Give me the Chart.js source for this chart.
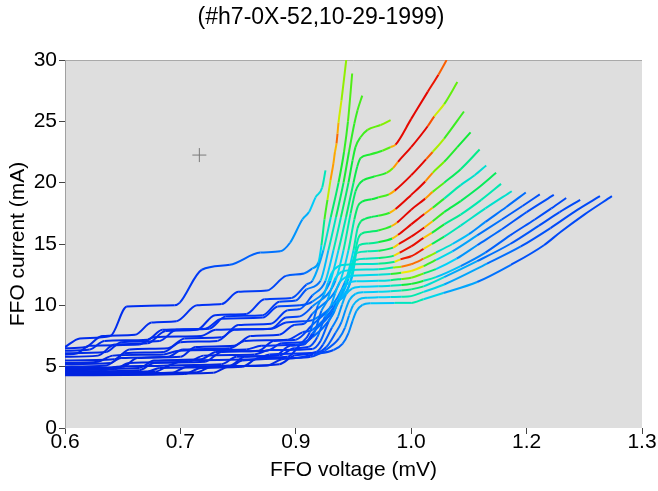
<!DOCTYPE html>
<html>
<head>
<meta charset="utf-8">
<title>FFO IV curves</title>
<script src="https://cdn.jsdelivr.net/npm/chart.js@4.4.0/dist/chart.umd.min.js"></script>
<style>
  html, body { margin: 0; padding: 0; background: #fff; }
  #wrap { width: 658px; height: 491px; }
</style>
</head>
<body>
<div id="wrap"><canvas id="myChart" width="658" height="491"></canvas></div>
<script>
'use strict';

/*---------------------------------------------------------------*/
/*----------------------------- data ----------------------------*/
/*---------------------------------------------------------------*/
// each point: [FFO voltage (mV), FFO current (mA), colour level 0..1]

const xTickValues = [0.6, 0.74, 0.88, 1.02, 1.16, 1.3];
const xTickLabels = ['0.6', '0.7', '0.9', '1.0', '1.2', '1.3'];
const yTickValues = [0, 5, 10, 15, 20, 25, 30];
const cursorMark = [0.763, 22.25];

const t1 = [[0.600,6.6,0.08],[0.618,7.3,0.08],[0.655,7.5,0.08],[0.675,9.9,0.09],[0.733,10.0,0.09],[0.739,10.2,0.1],[0.766,12.9,0.12],[0.800,13.3,0.16],[0.837,14.3,0.2],[0.861,14.4,0.22],[0.873,15.1,0.24],[0.888,17.0,0.28],[0.896,17.6,0.32],[0.904,18.8,0.36],[0.912,19.6,0.4],[0.916,21.0,0.46]];

const s1 = [[0.600,6.5,0.07],[0.625,6.6,0.07],[0.645,7.5,0.08],[0.685,7.6,0.08],[0.705,8.6,0.09],[0.735,8.7,0.09],[0.760,10.0,0.1],[0.790,10.1,0.1],[0.810,11.1,0.11],[0.845,11.2,0.12],[0.868,12.4,0.15],[0.890,12.6,0.2],[0.900,13.0,0.24],[0.9075,13.5,0.3],[0.9111,14.9,0.42],[0.9148,17.0,0.52],[0.9184,18.6,0.62],[0.9221,20.2,0.74],[0.9257,21.6,0.88],[0.9275,22.5,0.72],[0.9294,23.2,0.84],[0.9306,24.0,0.87],[0.9318,24.9,0.72],[0.9354,26.7,0.66],[0.9412,30.0,0.62]];

const s2 = [[0.600,5.8,0.06],[0.640,5.9,0.06],[0.660,6.8,0.07],[0.700,6.9,0.07],[0.722,7.9,0.08],[0.760,8.0,0.08],[0.782,9.2,0.09],[0.820,9.3,0.1],[0.842,10.5,0.11],[0.875,10.6,0.13],[0.893,11.7,0.17],[0.9002,12.0,0.22],[0.9135,14.5,0.36],[0.9225,17.2,0.46],[0.9318,20.0,0.52],[0.9385,22.5,0.55],[0.9433,25.0,0.57],[0.9484,28.9,0.6]];

const s3 = [[0.600,6.1,0.07],[0.650,6.2,0.07],[0.668,7.0,0.08],[0.715,7.1,0.08],[0.735,8.0,0.09],[0.775,8.1,0.09],[0.795,9.1,0.1],[0.840,9.2,0.11],[0.860,10.3,0.12],[0.880,10.4,0.14],[0.893,11.3,0.18],[0.9099,12.0,0.26],[0.9196,14.5,0.38],[0.9288,17.2,0.47],[0.9379,20.0,0.52],[0.9445,22.5,0.55],[0.951,24.8,0.56],[0.9549,25.9,0.57],[0.9606,27.1,0.58]];

const g1 = [[0.600,5.5,0.06],[0.660,5.6,0.06],[0.678,6.4,0.07],[0.725,6.5,0.07],[0.745,7.3,0.08],[0.790,7.4,0.08],[0.810,8.4,0.09],[0.850,8.5,0.1],[0.870,9.6,0.12],[0.885,9.7,0.14],[0.900,10.8,0.18],[0.916,12.0,0.28],[0.9257,14.5,0.4],[0.9348,17.2,0.47],[0.9439,20.0,0.51],[0.9488,21.8,0.53],[0.9524,22.9,0.54],[0.9585,23.7,0.56],[0.967,24.3,0.58],[0.9828,24.7,0.62],[0.995,25.1,0.64]];

const f01 = [[0.600,6.3,0.07],[0.630,6.4,0.07],[0.648,7.1,0.08],[0.700,7.2,0.08],[0.718,8.0,0.09],[0.770,8.1,0.09],[0.790,8.9,0.1],[0.840,9.0,0.1],[0.858,9.9,0.12],[0.885,10.0,0.15],[0.900,10.3,0.18],[0.922,12.0,0.3],[0.9318,14.5,0.41],[0.941,17.2,0.47],[0.950,20.0,0.5],[0.9545,21.3,0.52],[0.9585,22.0,0.53],[0.970,22.3,0.54],[0.985,22.6,0.56],[0.995,22.9,0.62],[1.001,23.1,0.96],[1.02,25.2,0.99],[1.04,27.4,0.98],[1.053,28.8,0.92],[1.063,30.0,0.8]];

const f02 = [[0.600,5.2,0.06],[0.655,5.3,0.06],[0.672,6.1,0.07],[0.720,6.2,0.07],[0.740,7.0,0.08],[0.785,7.1,0.08],[0.805,8.0,0.09],[0.850,8.1,0.1],[0.868,9.0,0.11],[0.885,9.1,0.14],[0.900,9.9,0.18],[0.928,12.0,0.3],[0.9379,14.5,0.42],[0.9465,17.5,0.48],[0.9525,19.3,0.5],[0.957,19.9,0.51],[0.962,20.2,0.52],[0.975,20.5,0.53],[0.990,20.8,0.56],[0.998,21.2,0.66],[1.004,21.7,0.97],[1.02,22.9,0.99],[1.04,24.6,0.98],[1.048,25.4,0.76],[1.06,26.4,0.62],[1.076,28.2,0.58]];

const f03 = [[0.600,4.9,0.05],[0.670,5.0,0.05],[0.688,5.7,0.06],[0.740,5.8,0.06],[0.758,6.6,0.07],[0.805,6.7,0.07],[0.825,7.5,0.08],[0.860,7.6,0.09],[0.878,8.4,0.11],[0.890,8.5,0.13],[0.900,9.3,0.17],[0.934,12.0,0.3],[0.9439,14.5,0.42],[0.951,17.0,0.48],[0.9555,18.1,0.5],[0.9605,18.45,0.51],[0.972,18.65,0.52],[0.980,18.8,0.53],[0.993,19.05,0.62],[1.000,19.35,0.97],[1.02,20.6,0.99],[1.038,21.9,0.98],[1.046,22.5,0.74],[1.06,23.6,0.58],[1.084,25.8,0.55]];

const f04 = [[0.600,6.0,0.07],[0.615,6.1,0.07],[0.630,6.7,0.07],[0.690,6.8,0.08],[0.708,7.4,0.08],[0.765,7.5,0.08],[0.783,8.0,0.09],[0.850,8.1,0.1],[0.868,8.6,0.11],[0.890,8.7,0.13],[0.900,8.8,0.16],[0.9403,12.0,0.32],[0.950,14.5,0.42],[0.955,16.3,0.47],[0.959,16.85,0.49],[0.964,17.05,0.5],[0.972,17.2,0.5],[0.980,17.3,0.51],[0.994,17.55,0.6],[1.001,17.85,0.97],[1.02,19.0,0.99],[1.037,20.1,0.98],[1.046,20.8,0.68],[1.06,21.7,0.56],[1.076,22.9,0.53],[1.092,24.1,0.52]];

const f05 = [[0.600,4.6,0.05],[0.690,4.7,0.05],[0.708,5.3,0.06],[0.770,5.4,0.06],[0.790,6.2,0.07],[0.835,6.3,0.07],[0.853,7.1,0.08],[0.880,7.2,0.1],[0.900,8.4,0.15],[0.925,10.0,0.24],[0.9464,12.0,0.34],[0.9524,14.5,0.42],[0.956,15.5,0.46],[0.960,15.85,0.47],[0.970,16.0,0.48],[0.980,16.1,0.5],[0.996,16.45,0.6],[1.003,16.75,0.97],[1.02,17.8,0.99],[1.037,18.7,0.98],[1.046,19.25,0.66],[1.06,20.0,0.52],[1.08,21.1,0.48],[1.103,22.7,0.46]];

const f06 = [[0.600,5.0,0.06],[0.650,5.1,0.06],[0.668,5.7,0.06],[0.725,5.8,0.07],[0.743,6.4,0.07],[0.800,6.5,0.08],[0.818,7.1,0.08],[0.870,7.2,0.09],[0.888,7.8,0.12],[0.900,8.0,0.15],[0.930,10.2,0.26],[0.949,12.5,0.36],[0.9535,14.3,0.42],[0.957,14.9,0.45],[0.968,15.05,0.46],[0.980,15.15,0.47],[0.997,15.45,0.58],[1.004,15.75,0.96],[1.02,16.6,0.99],[1.036,17.45,0.97],[1.046,17.95,0.62],[1.06,18.7,0.48],[1.08,19.8,0.42],[1.097,20.6,0.4],[1.111,21.4,0.4]];

const f07 = [[0.600,4.4,0.05],[0.730,4.5,0.05],[0.748,5.0,0.06],[0.800,5.1,0.06],[0.818,5.8,0.07],[0.855,5.9,0.07],[0.873,6.7,0.09],[0.890,6.8,0.12],[0.900,7.7,0.15],[0.928,9.8,0.25],[0.944,12.2,0.36],[0.950,13.8,0.41],[0.955,14.3,0.43],[0.967,14.4,0.44],[0.980,14.45,0.45],[0.998,14.7,0.56],[1.005,15.0,0.95],[1.02,15.6,0.99],[1.036,16.35,0.96],[1.046,16.85,0.6],[1.06,17.6,0.52],[1.08,18.5,0.5],[1.10,19.5,0.5],[1.123,20.8,0.5]];

const f08 = [[0.600,4.8,0.05],[0.690,4.9,0.05],[0.708,5.5,0.06],[0.765,5.6,0.06],[0.783,6.2,0.07],[0.845,6.3,0.07],[0.863,6.9,0.09],[0.888,7.0,0.12],[0.900,7.4,0.15],[0.925,9.3,0.24],[0.940,11.8,0.34],[0.947,13.2,0.39],[0.953,13.7,0.41],[0.965,13.8,0.42],[0.980,13.85,0.43],[0.999,14.05,0.54],[1.006,14.3,0.94],[1.02,14.8,0.98],[1.035,15.5,0.95],[1.045,15.9,0.58],[1.06,16.6,0.48],[1.08,17.4,0.45],[1.105,18.6,0.44],[1.129,19.9,0.44]];

const f09 = [[0.600,4.3,0.05],[0.745,4.4,0.05],[0.765,4.9,0.06],[0.815,5.0,0.06],[0.835,5.7,0.07],[0.870,5.8,0.08],[0.885,6.8,0.1],[0.897,7.8,0.15],[0.9069,9.99,0.24],[0.9142,10.88,0.29],[0.9191,11.86,0.33],[0.9239,12.68,0.36],[0.9312,13.17,0.38],[0.941,13.31,0.4],[0.980,13.4,0.42],[1.000,13.55,0.52],[1.007,13.75,0.9],[1.02,14.0,0.96],[1.035,14.6,0.92],[1.045,15.0,0.56],[1.06,15.6,0.45],[1.08,16.5,0.42],[1.11,17.9,0.41],[1.142,19.3,0.4]];

const f10 = [[0.600,5.3,0.06],[0.640,5.4,0.06],[0.658,5.9,0.06],[0.720,6.0,0.07],[0.738,6.3,0.07],[0.820,6.4,0.08],[0.838,6.7,0.09],[0.880,6.8,0.11],[0.902,7.7,0.16],[0.9111,9.54,0.23],[0.9184,10.43,0.28],[0.9233,11.41,0.31],[0.9281,12.23,0.34],[0.9354,12.72,0.36],[0.9452,12.86,0.38],[0.980,12.95,0.4],[0.998,13.08,0.48],[1.008,13.15,0.8],[1.02,13.35,0.88],[1.035,13.8,0.82],[1.05,14.3,0.45],[1.07,15.0,0.36],[1.09,15.8,0.28],[1.11,16.8,0.22],[1.135,18.0,0.2],[1.159,19.2,0.2]];

const f11 = [[0.600,4.5,0.05],[0.710,4.6,0.05],[0.728,5.1,0.06],[0.790,5.2,0.06],[0.808,5.8,0.07],[0.860,5.9,0.08],[0.878,6.5,0.09],[0.895,6.6,0.12],[0.906,7.4,0.16],[0.9154,9.09,0.23],[0.9227,9.98,0.27],[0.9276,10.96,0.3],[0.9324,11.78,0.33],[0.9397,12.27,0.35],[0.9495,12.41,0.36],[0.980,12.5,0.38],[0.995,12.55,0.42],[1.008,12.65,0.68],[1.02,12.8,0.76],[1.035,13.2,0.7],[1.05,13.7,0.42],[1.07,14.4,0.32],[1.10,15.7,0.24],[1.13,17.0,0.18],[1.155,18.1,0.16],[1.176,19.05,0.15]];

const f12 = [[0.600,4.7,0.05],[0.660,4.8,0.05],[0.678,5.3,0.06],[0.750,5.4,0.06],[0.768,5.9,0.07],[0.830,6.0,0.07],[0.848,6.35,0.08],[0.900,6.45,0.12],[0.910,7.1,0.15],[0.9196,8.64,0.21],[0.9269,9.53,0.26],[0.9318,10.51,0.29],[0.9366,11.33,0.32],[0.9439,11.82,0.34],[0.9537,11.96,0.35],[0.980,12.0,0.37],[0.995,12.05,0.4],[1.008,12.15,0.56],[1.02,12.25,0.64],[1.035,12.6,0.58],[1.05,12.95,0.4],[1.075,13.8,0.3],[1.10,14.9,0.22],[1.13,16.2,0.17],[1.16,17.6,0.15],[1.193,19.0,0.14]];

const f13 = [[0.600,4.35,0.05],[0.780,4.5,0.05],[0.798,5.0,0.06],[0.860,5.2,0.07],[0.878,5.9,0.08],[0.905,6.2,0.12],[0.913,6.8,0.15],[0.9239,8.19,0.21],[0.9312,9.08,0.25],[0.9361,10.06,0.28],[0.9409,10.88,0.31],[0.9482,11.37,0.33],[0.958,11.51,0.34],[0.980,11.55,0.36],[0.995,11.6,0.39],[1.008,11.65,0.48],[1.02,11.75,0.56],[1.035,12.0,0.5],[1.05,12.3,0.38],[1.08,13.2,0.27],[1.11,14.3,0.2],[1.14,15.7,0.16],[1.17,17.0,0.15],[1.19,17.9,0.14],[1.208,18.75,0.14]];

const f14 = [[0.600,4.6,0.05],[0.645,4.65,0.05],[0.663,5.0,0.06],[0.725,5.1,0.06],[0.743,5.5,0.07],[0.830,5.6,0.07],[0.848,6.0,0.08],[0.905,6.15,0.12],[0.917,6.6,0.15],[0.9281,7.75,0.2],[0.9354,8.64,0.24],[0.9403,9.62,0.27],[0.9451,10.44,0.3],[0.9524,10.93,0.32],[0.9622,11.07,0.33],[0.980,11.1,0.35],[0.995,11.15,0.38],[1.008,11.2,0.44],[1.02,11.3,0.5],[1.035,11.55,0.46],[1.06,12.3,0.34],[1.10,13.6,0.24],[1.14,15.0,0.17],[1.175,16.5,0.15],[1.20,17.6,0.14],[1.225,18.6,0.14]];

const f15 = [[0.600,4.45,0.05],[0.760,4.55,0.05],[0.778,5.0,0.06],[0.845,5.1,0.07],[0.863,5.6,0.08],[0.898,5.8,0.11],[0.915,6.3,0.14],[0.9324,7.30,0.2],[0.9397,8.19,0.24],[0.9446,9.17,0.27],[0.9494,9.99,0.3],[0.9567,10.48,0.32],[0.9665,10.62,0.33],[0.980,10.65,0.34],[0.995,10.68,0.36],[1.008,10.7,0.42],[1.02,10.75,0.47],[1.035,11.1,0.42],[1.06,11.7,0.33],[1.112,13.4,0.24],[1.153,14.8,0.17],[1.189,16.3,0.14],[1.222,17.8,0.14],[1.249,18.9,0.14]];

const f16 = [[0.600,4.55,0.05],[0.700,4.6,0.05],[0.715,4.9,0.06],[0.800,5.0,0.06],[0.815,5.5,0.07],[0.880,5.7,0.09],[0.9014,6.0,0.12],[0.9257,6.36,0.16],[0.9366,6.85,0.2],[0.9439,7.74,0.23],[0.9488,8.72,0.26],[0.9536,9.54,0.28],[0.9609,10.03,0.3],[0.9707,10.17,0.31],[1.00,10.2,0.36],[1.02,10.2,0.48],[1.035,10.5,0.42],[1.059,11.0,0.32],[1.10,11.9,0.25],[1.141,13.3,0.17],[1.181,14.9,0.14],[1.2016,16.0,0.14],[1.23,17.4,0.14],[1.2635,18.9,0.14]];

// first in list is drawn on top
const curves = [f16, f15, f14, f13, f12, f11, f10, f09, f08, f07, f06, f05, f04, f03, f02, f01, g1, s3, s2, s1, t1];

/*---------------------------------------------------------------*/
/*---------------------------- colour ---------------------------*/
/*---------------------------------------------------------------*/
const jetStops = [
    [0.00, [0, 20, 200]],
    [0.10, [0, 50, 245]],
    [0.22, [0, 120, 255]],
    [0.35, [0, 210, 250]],
    [0.45, [0, 235, 170]],
    [0.52, [10, 235, 60]],
    [0.62, [120, 240, 0]],
    [0.72, [240, 235, 0]],
    [0.82, [255, 150, 0]],
    [0.90, [245, 40, 0]],
    [1.00, [225, 0, 0]]
];

function jet(v) {
    v = Math.max(0, Math.min(1, v));
    for (let i = 1; i < jetStops.length; i++) {
        const a = jetStops[i - 1], b = jetStops[i];
        if (v <= b[0]) {
            const t = (v - a[0]) / (b[0] - a[0]);
            const c = a[1].map((ch, k) => Math.round(ch + (b[1][k] - ch) * t));
            return `rgb(${c[0]}, ${c[1]}, ${c[2]})`;
        }
    }
    return 'rgb(225, 0, 0)';
}

/*---------------------------------------------------------------*/
/*----------------------------- chart ---------------------------*/
/*---------------------------------------------------------------*/
const FONT = 'Liberation Sans, Arial, Helvetica, sans-serif';
Chart.defaults.font.family = FONT;
Chart.defaults.color = '#000';

const datasets = curves.map(c => ({
    data: c.map(p => ({ x: p[0], y: p[1] })),
    showLine: true,
    pointRadius: 0,
    borderWidth: 2,
    cubicInterpolationMode: 'monotone',
    borderColor: jet(c[0][2]),
    segment: {
        borderColor: ctx => jet((c[ctx.p0DataIndex][2] + c[ctx.p1DataIndex][2]) / 2)
    }
}));

// cursor cross left on the plot
datasets.push({
    data: [{ x: cursorMark[0], y: cursorMark[1] }],
    showLine: false,
    pointStyle: 'cross',
    pointRadius: 7,
    borderColor: '#7a7a7a',
    borderWidth: 1,
    backgroundColor: 'transparent'
});

const plotBg = {
    id: 'plotBg',
    beforeDraw(chart) {
        const { ctx, chartArea: a } = chart;
        ctx.save();
        ctx.fillStyle = '#dedede';
        ctx.fillRect(a.left, a.top, a.right - a.left, a.bottom - a.top);
        ctx.strokeStyle = '#a9a9a9';
        ctx.lineWidth = 1;
        ctx.beginPath();
        ctx.moveTo(a.left, a.top + 0.5);
        ctx.lineTo(a.right, a.top + 0.5);
        ctx.stroke();
        ctx.restore();
    }
};

const config = {
    type: 'line',
    data: { datasets: datasets },
    plugins: [plotBg],
    options: {
        responsive: false,
        animation: false,
        devicePixelRatio: 1,
        events: [],
        layout: { padding: { left: 0, right: 16, top: 0, bottom: 0 } },
        plugins: {
            legend: { display: false },
            tooltip: { enabled: false },
            title: {
                display: true,
                text: '(#h7-0X-52,10-29-1999)',
                color: '#000',
                font: { family: FONT, size: 23, weight: 'normal' },
                padding: { top: 4.2, bottom: 28.2 }
            }
        },
        scales: {
            x: {
                type: 'linear',
                min: 0.6,
                max: 1.3,
                afterBuildTicks: axis => { axis.ticks = xTickValues.map(v => ({ value: v })); },
                afterFit: s => { s.height = 63; },
                ticks: {
                    callback: (v, i) => xTickLabels[i],
                    font: { size: 21 },
                    color: '#000',
                    padding: -4,
                    maxRotation: 0
                },
                grid: { drawOnChartArea: false, drawTicks: true, tickLength: 6, color: '#444' },
                border: { display: false },
                title: {
                    display: true,
                    text: 'FFO voltage (mV)',
                    font: { size: 21 },
                    color: '#000',
                    padding: { top: 0, bottom: 8.4 }
                }
            },
            y: {
                min: 0,
                max: 30,
                afterBuildTicks: axis => { axis.ticks = yTickValues.map(v => ({ value: v })); },
                afterFit: s => { s.width = 65; },
                ticks: {
                    font: { size: 21 },
                    color: '#000',
                    padding: 2
                },
                grid: { drawOnChartArea: false, drawTicks: true, tickLength: 6, color: '#444' },
                border: { display: true, color: '#a0a0a0' },
                title: {
                    display: true,
                    text: 'FFO current (mA)',
                    font: { size: 21 },
                    color: '#000',
                    padding: { top: 6, bottom: 0 }
                }
            }
        }
    }
};

new Chart(document.getElementById('myChart'), config);
</script>
</body>
</html>
